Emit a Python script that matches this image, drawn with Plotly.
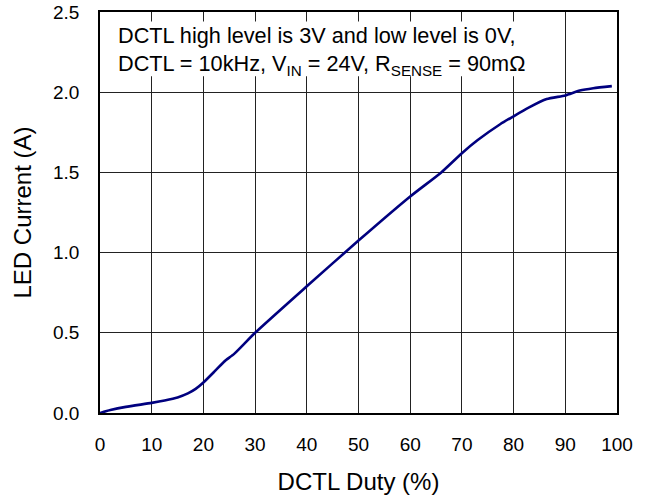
import plotly.graph_objects as go

duty = [0, 2, 5, 10, 12.5, 15, 17, 18.5, 20, 22, 24, 26, 30, 40, 50, 60, 66, 70, 73, 77.4, 80, 83, 86.4, 90, 92.8, 95.4, 99]
current = [0, 0.018, 0.038, 0.063, 0.078, 0.097, 0.122, 0.15, 0.19, 0.254, 0.32, 0.37, 0.50, 0.79, 1.075, 1.35, 1.50, 1.62, 1.70, 1.80, 1.85, 1.905, 1.957, 1.98, 2.01, 2.025, 2.038]

x_ticks = [0, 10, 20, 30, 40, 50, 60, 70, 80, 90, 100]
y_ticks = [0.0, 0.5, 1.0, 1.5, 2.0, 2.5]
y_tick_labels = ["0.0", "0.5", "1.0", "1.5", "2.0", "2.5"]

note_lines = [
    "DCTL high level is 3V and low level is 0V,",
    "DCTL = 10kHz, V<sub>IN</sub> = 24V, R<sub>SENSE</sub> = 90m\u03a9",
]

font_family = "Liberation Sans, Arial, sans-serif"

fig = go.Figure()
fig.add_trace(go.Scatter(
    x=duty, y=current, mode="lines",
    line=dict(color="#00007f", width=2.6, shape="spline", smoothing=0.6),
    showlegend=False,
))

fig.add_shape(type="rect", xref="x", yref="y", x0=0.6, x1=83.5, y0=2.1, y1=2.44,
              fillcolor="white", line=dict(width=0), layer="between")

fig.add_annotation(
    text="<br>".join(note_lines),
    xref="paper", yref="paper", x=(116 - 100) / 517, y=1 - (21 - 12) / 401.3,
    xanchor="left", yanchor="top", align="left", showarrow=False,
    font=dict(family=font_family, size=21.7, color="black"),
)

fig.update_layout(
    width=653, height=500,
    margin=dict(l=100, r=36, t=12, b=87),
    paper_bgcolor="white", plot_bgcolor="white",
    font=dict(family=font_family, color="black"),
)
fig.update_xaxes(
    range=[0, 100], tickvals=x_ticks, ticks="", ticklabelstandoff=13,
    tickfont=dict(size=19), showgrid=True, gridcolor="#222", gridwidth=1,
    showline=True, linecolor="black", linewidth=1.5, mirror=True, zeroline=False,
    automargin=False,
    title=dict(text="DCTL Duty (%)", font=dict(size=24), standoff=20),
)
fig.update_yaxes(
    range=[0, 2.5], tickvals=y_ticks, ticktext=y_tick_labels, ticks="", ticklabelstandoff=15,
    tickfont=dict(size=19), showgrid=True, gridcolor="#222", gridwidth=1,
    showline=True, linecolor="black", linewidth=1.5, mirror=True, zeroline=False,
    automargin=False,
    title=dict(text="LED Current (A)", font=dict(size=24), standoff=15),
)

fig.write_html("out.html", config={"displayModeBar": False},
               post_script="document.body.style.margin='0';")
